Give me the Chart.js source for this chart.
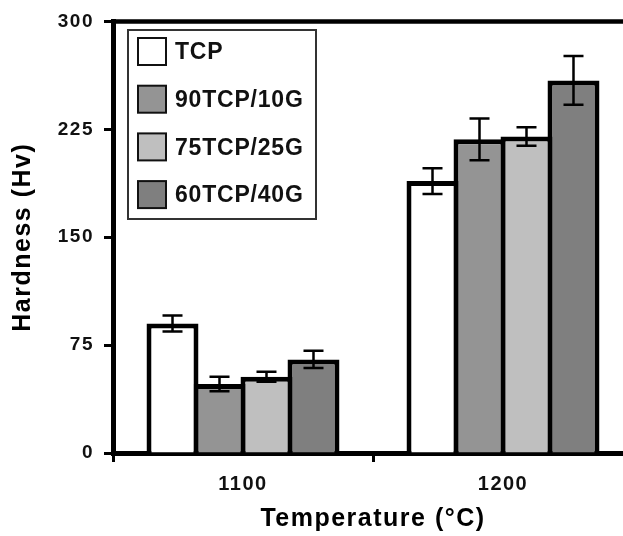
<!DOCTYPE html>
<html>
<head>
<meta charset="utf-8">
<script src="https://cdn.jsdelivr.net/npm/chart.js@4.4.1/dist/chart.umd.min.js"></script>
<style>
html, body { margin: 0; padding: 0; background: #fff; overflow: hidden; }
canvas { display: block; }
</style>
</head>
<body>
<canvas id="hardness_chart" width="640" height="536"></canvas>
<script>
// data
const temperatures = ['1100', '1200'];
const seriesNames = ['TCP', '90TCP/10G', '75TCP/25G', '60TCP/40G'];
const hardnessTCP = [90, 189];
const hardness90 = [48, 218];
const hardness75 = [53, 220];
const hardness60 = [65, 259];
const errorTCP = [5.5, 9];
const error90 = [5, 14.5];
const error75 = [3.5, 6.5];
const error60 = [6, 17];
const yTickValues = [0, 75, 150, 225, 300];

const seriesValues = [hardnessTCP, hardness90, hardness75, hardness60];
const seriesErrors = [errorTCP, error90, error75, error60];
const seriesColors = ['#ffffff', '#949494', '#bfbfbf', '#7f7f7f'];
const fontFamily = '"Liberation Sans", Arial, Helvetica, sans-serif';

// text spacing like the original print
const spacingPlugin = {
    id: 'spacing',
    beforeDraw(chart) {
        chart.ctx.letterSpacing = '1.5px';
    }
};

// top frame line
const framePlugin = {
    id: 'frame',
    afterDraw(chart) {
        const ctx = chart.ctx;
        const a = chart.chartArea;
        ctx.save();
        ctx.strokeStyle = '#000';
        ctx.lineWidth = 4.5;
        ctx.beginPath();
        ctx.moveTo(a.left - 2, a.top);
        ctx.lineTo(a.right, a.top);
        ctx.stroke();
        ctx.restore();
    }
};

// error bars
const errorBarPlugin = {
    id: 'errorBars',
    afterDatasetsDraw(chart) {
        const ctx = chart.ctx;
        const y = chart.scales.y;
        ctx.save();
        ctx.strokeStyle = '#000';
        ctx.lineWidth = 2.5;
        chart.data.datasets.forEach(function (ds, i) {
            const meta = chart.getDatasetMeta(i);
            meta.data.forEach(function (bar, j) {
                const v = ds.data[j];
                const e = ds.errors[j];
                const top = y.getPixelForValue(v + e);
                const bottom = y.getPixelForValue(v - e);
                ctx.beginPath();
                ctx.moveTo(bar.x, top);
                ctx.lineTo(bar.x, bottom);
                ctx.moveTo(bar.x - 10, top);
                ctx.lineTo(bar.x + 10, top);
                ctx.moveTo(bar.x - 10, bottom);
                ctx.lineTo(bar.x + 10, bottom);
                ctx.stroke();
            });
        });
        ctx.restore();
    }
};

// boxed legend inside the plot
const boxLegendPlugin = {
    id: 'boxLegend',
    afterDraw(chart) {
        const ctx = chart.ctx;
        ctx.save();
        ctx.letterSpacing = '0.8px';
        ctx.fillStyle = '#fff';
        ctx.fillRect(128, 30, 188, 189);
        ctx.strokeStyle = '#333';
        ctx.lineWidth = 2;
        ctx.strokeRect(128, 30, 188, 189);
        ctx.font = 'bold 23px ' + fontFamily;
        ctx.textBaseline = 'middle';
        chart.data.datasets.forEach(function (ds, i) {
            const top = 38 + i * 47.7;
            ctx.fillStyle = ds.backgroundColor;
            ctx.fillRect(138, top, 28, 27);
            ctx.strokeStyle = '#111';
            ctx.lineWidth = 2;
            ctx.strokeRect(138, top, 28, 27);
            ctx.fillStyle = '#111';
            ctx.fillText(ds.label, 175, top + 15);
        });
        ctx.restore();
    }
};

const datasets = seriesNames.map(function (name, i) {
    return {
        label: name,
        data: seriesValues[i],
        errors: seriesErrors[i],
        backgroundColor: seriesColors[i],
        borderColor: '#000',
        borderWidth: 5,
        categoryPercentage: 0.723,
        barPercentage: 1.106
    };
});

const ctx = document.getElementById('hardness_chart').getContext('2d');
new Chart(ctx, {
    type: 'bar',
    data: {
        labels: temperatures,
        datasets: datasets
    },
    options: {
        responsive: false,
        animation: false,
        devicePixelRatio: 1,
        layout: { padding: { left: 0, top: 20, right: 7, bottom: 0 } },
        plugins: {
            legend: { display: false },
            tooltip: { enabled: false }
        },
        scales: {
            x: {
                afterFit: function (scale) { scale.height = 83; },
                border: { display: true, color: '#000', width: 5 },
                grid: {
                    display: true,
                    drawOnChartArea: false,
                    drawTicks: true,
                    tickLength: 9,
                    tickWidth: 3,
                    tickColor: '#000',
                    offset: true
                },
                ticks: {
                    color: '#111',
                    padding: 10,
                    font: { family: fontFamily, size: 20, weight: 'bold' }
                },
                title: {
                    display: true,
                    text: 'Temperature (°C)',
                    color: '#000',
                    padding: { top: 0, bottom: 2 },
                    font: { family: fontFamily, size: 25, weight: 'bold' }
                }
            },
            y: {
                min: 0,
                max: 300,
                afterFit: function (scale) { scale.width = 113; },
                afterBuildTicks: function (scale) {
                    scale.ticks = yTickValues.map(function (v) { return { value: v }; });
                },
                border: { display: true, color: '#000', width: 5 },
                grid: {
                    display: true,
                    drawOnChartArea: false,
                    drawTicks: true,
                    tickLength: 9,
                    tickWidth: 3,
                    tickColor: '#000'
                },
                ticks: {
                    color: '#111',
                    padding: 10,
                    font: { family: fontFamily, size: 19, weight: 'bold' }
                },
                title: {
                    display: true,
                    text: 'Hardness (Hv)',
                    color: '#000',
                    padding: { top: 8, bottom: 0 },
                    font: { family: fontFamily, size: 25, weight: 'bold' }
                }
            }
        }
    },
    plugins: [spacingPlugin, errorBarPlugin, framePlugin, boxLegendPlugin]
});
</script>
</body>
</html>
